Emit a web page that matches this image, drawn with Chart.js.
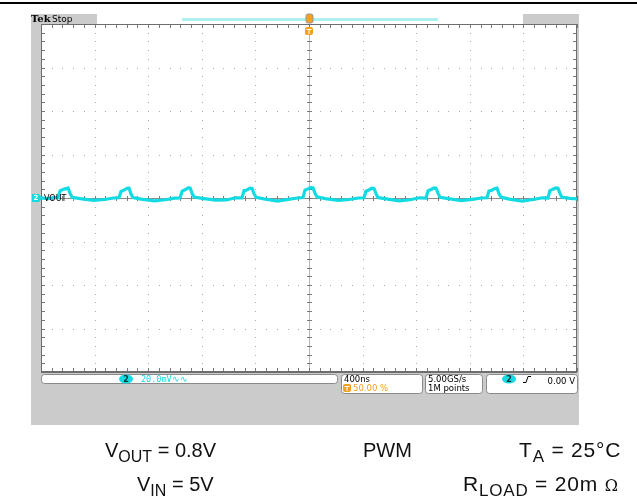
<!DOCTYPE html>
<html>
<head>
<meta charset="utf-8">
<script src="https://cdn.jsdelivr.net/npm/chart.js@4.4.0/dist/chart.umd.min.js"></script>
<style>
html, body { margin: 0; padding: 0; background: #fff; }
#wrap { position: relative; width: 637px; height: 498px; overflow: hidden; }
#scope { position: absolute; left: 0; top: 0; }
.cap { position: absolute; font-family: "Liberation Sans", Arial, sans-serif; font-size: 20px; line-height: 20px; color: #111; white-space: nowrap; }
.cap sub { font-size: 16px; vertical-align: -5px; line-height: 0; }
.cap.wide { font-size: 21px; letter-spacing: 0.8px; }
.cap.wide sub { font-size: 17px; }
.cap .ohm { font-family: "DejaVu Serif", serif; font-size: 16px; }
</style>
</head>
<body>
<div id="wrap">
<canvas id="scope" width="637" height="498"></canvas>
<div class="cap" style="left:105px;top:440px">V<sub>OUT</sub> = 0.8V</div>
<div class="cap" style="left:363px;top:440px">PWM</div>
<div class="cap wide" style="left:519px;top:440px">T<sub>A</sub> = 25°C</div>
<div class="cap" style="left:137px;top:474px">V<sub>IN</sub> = 5V</div>
<div class="cap wide" style="left:463px;top:474px">R<sub>LOAD</sub> = 20m <span class="ohm">Ω</span></div>
</div>
<script>
// horizontal: 400 ns/div, 10 divisions, trigger at centre
var TIME_MIN = -2000, TIME_MAX = 2000, TIME_DIV = 400;
// vertical: 20 mV/div, 8 divisions
var MV_MIN = -80, MV_MAX = 80, MV_DIV = 20;

// CH2 VOUT ripple (ns, mV)
var traceTimeNs = [
    -2000, -1950, -1900,
    -1873, -1858, -1836, -1813, -1798, -1783, -1768, -1708, -1608, -1528, -1458,
    -1418, -1403, -1381, -1358, -1343, -1328, -1313, -1253, -1153, -1073, -1003,
    -962, -947, -925, -902, -887, -872, -857, -797, -697, -617, -547,
    -500, -485, -463, -440, -425, -410, -395, -335, -235, -155, -85,
    -45, -30, -8, 15, 30, 45, 60, 120, 220, 300, 370,
    410, 425, 447, 470, 485, 500, 515, 575, 675, 755, 825,
    873, 888, 910, 933, 948, 963, 978, 1038, 1138, 1218, 1288,
    1328, 1343, 1365, 1388, 1403, 1418, 1433, 1493, 1593, 1673, 1743,
    1783, 1798, 1820, 1843, 1858, 1873, 1888, 1948, 2000
];
var traceMv = [
    0.1, -0.3, 0.2,
    0.2, 3.3, 3.9, 4.3, 4.6, 2.1, 0.3, -0.3, -1.1, -0.7, 0.0,
    0.1, 3.0, 3.6, 4.4, 4.5, 1.8, 0.2, -0.5, -1.3, -0.8, -0.1,
    0.0, 3.2, 3.8, 4.7, 4.6, 2.0, 0.4, -0.2, -1.0, -0.9, 0.1,
    0.1, 3.4, 3.7, 4.5, 4.4, 1.9, 0.3, -0.4, -1.4, -0.6, 0.0,
    0.2, 3.6, 4.2, 4.9, 4.7, 2.2, 0.5, -0.3, -1.1, -0.7, 0.0,
    0.1, 3.1, 3.7, 4.5, 4.4, 2.0, 0.2, -0.4, -1.3, -0.8, 0.1,
    0.0, 3.3, 3.9, 4.6, 4.5, 2.1, 0.3, -0.3, -1.2, -0.6, 0.0,
    0.1, 3.2, 3.6, 4.4, 4.6, 1.9, 0.4, -0.5, -1.4, -0.7, 0.1,
    0.0, 3.4, 4.0, 4.6, 4.5, 2.0, 0.3, -0.2, -0.4
];

var CH_LABEL = "VOUT";
var SCALE_TEXT = "20.0mV";
var TIMEBASE_TEXT = "400ns";
var TRIG_POS_TEXT = "50.00 %";
var RATE_TEXT = "5.00GS/s";
var POINTS_TEXT = "1M points";
var TRIG_LEVEL_TEXT = "0.00 V";

var CYAN = "#12dbe3";
var ORANGE = "#f5a01e";
var PANEL = "#cbcbcb";

function roundBox(ctx, x, y, w, h, r) {
    ctx.beginPath();
    ctx.moveTo(x + r, y);
    ctx.lineTo(x + w - r, y);
    ctx.quadraticCurveTo(x + w, y, x + w, y + r);
    ctx.lineTo(x + w, y + h - r);
    ctx.quadraticCurveTo(x + w, y + h, x + w - r, y + h);
    ctx.lineTo(x + r, y + h);
    ctx.quadraticCurveTo(x, y + h, x, y + h - r);
    ctx.lineTo(x, y + r);
    ctx.quadraticCurveTo(x, y, x + r, y);
    ctx.closePath();
}

function chBadge(ctx, cx, cy) {
    ctx.fillStyle = CYAN;
    ctx.beginPath();
    ctx.ellipse(cx, cy, 7, 4.5, 0, 0, Math.PI * 2);
    ctx.fill();
    ctx.fillStyle = "#033";
    ctx.font = "bold 8px 'DejaVu Sans'";
    ctx.textAlign = "center";
    ctx.textBaseline = "middle";
    ctx.fillText("2", cx, cy + 0.5);
}

function trigMarker(ctx, cx, top) {
    ctx.fillStyle = ORANGE;
    roundBox(ctx, cx - 4, top, 8, 8, 2);
    ctx.fill();
    ctx.fillStyle = "#fff";
    ctx.fillRect(cx - 2.5, top + 2, 5, 1);
    ctx.fillRect(cx - 0.5, top + 2, 1, 5);
}

var scopePlugin = {
    id: "scope",
    beforeDraw: function(chart) {
        var ctx = chart.ctx, a = chart.chartArea;
        var xs = chart.scales.x, ys = chart.scales.y;
        var L = a.left, R = a.right, T = a.top, B = a.bottom;
        ctx.save();
        // page rule
        ctx.fillStyle = "#000";
        ctx.fillRect(0, 2, chart.width, 2);
        // instrument panel
        ctx.fillStyle = PANEL;
        ctx.fillRect(L - 10, T - 10, R - L + 12, B - T + 63);
        // header strip
        ctx.fillStyle = "#fff";
        ctx.fillRect(97, T - 10, 426, 10);
        ctx.fillStyle = "#aef0f2";
        ctx.fillRect(182, T - 6, 256, 3);
        // graticule
        ctx.fillStyle = "#fff";
        ctx.fillRect(L, T, R - L, B - T);
        var t, v, px, py;
        ctx.fillStyle = "#a8a8a8";
        for (t = TIME_MIN + TIME_DIV; t < TIME_MAX; t += TIME_DIV) {
            if (t === 0) continue;
            px = Math.round(xs.getPixelForValue(t));
            for (v = MV_MIN; v <= MV_MAX; v += MV_DIV / 5) {
                ctx.fillRect(px, Math.round(ys.getPixelForValue(v)), 1, 1);
            }
        }
        for (v = MV_MIN + MV_DIV; v < MV_MAX; v += MV_DIV) {
            if (v === 0) continue;
            py = Math.round(ys.getPixelForValue(v));
            for (t = TIME_MIN; t <= TIME_MAX; t += TIME_DIV / 5) {
                ctx.fillRect(Math.round(xs.getPixelForValue(t)), py, 1, 1);
            }
        }
        // centre axes with ticks
        var cx = Math.round(xs.getPixelForValue(0));
        var cy = Math.round(ys.getPixelForValue(0));
        ctx.fillStyle = "#8c8c8c";
        ctx.fillRect(L, cy, R - L, 1);
        ctx.fillStyle = "#b8b8b8";
        ctx.fillRect(cx, T, 1, B - T);
        ctx.fillStyle = "#7a7a7a";
        for (t = TIME_MIN; t <= TIME_MAX; t += TIME_DIV / 5) {
            px = Math.round(xs.getPixelForValue(t));
            ctx.fillRect(px, cy - 2, 1, 5);
            ctx.fillRect(px, T, 1, 4);
            ctx.fillRect(px, B - 4, 1, 4);
        }
        for (v = MV_MIN; v <= MV_MAX; v += MV_DIV / 5) {
            py = Math.round(ys.getPixelForValue(v));
            ctx.fillRect(cx - 2, py, 5, 1);
            ctx.fillRect(L, py, 4, 1);
            ctx.fillRect(R - 4, py, 4, 1);
        }
        // frame
        ctx.fillStyle = "#6e6e6e";
        ctx.fillRect(L, T, R - L, 1);
        ctx.fillRect(L, B - 1, R - L, 2);
        ctx.fillRect(L, T, 1, B - T);
        ctx.fillRect(R - 1, T, 1, B - T);
        ctx.restore();
    },
    afterDatasetsDraw: function(chart) {
        var ctx = chart.ctx, a = chart.chartArea;
        var xs = chart.scales.x, ys = chart.scales.y;
        var L = a.left, R = a.right, T = a.top, B = a.bottom;
        var cx = Math.round(xs.getPixelForValue(0));
        var cy = Math.round(ys.getPixelForValue(0));
        ctx.save();
        // header text
        ctx.fillStyle = "#000";
        ctx.textAlign = "left";
        ctx.textBaseline = "alphabetic";
        ctx.font = "bold 10px 'DejaVu Serif'";
        ctx.fillText("Tek", 31, T - 2);
        ctx.font = "9px 'DejaVu Sans'";
        ctx.fillText("Stop", 52, T - 2);
        // record / trigger markers
        ctx.fillStyle = ORANGE;
        roundBox(ctx, cx - 3, T - 10, 7, 9, 2);
        ctx.fill();
        ctx.strokeStyle = "#999";
        ctx.lineWidth = 1;
        ctx.stroke();
        trigMarker(ctx, cx, T + 3);
        // channel marker
        ctx.fillStyle = CYAN;
        ctx.beginPath();
        ctx.moveTo(L - 9, cy - 4);
        ctx.lineTo(L - 2, cy - 4);
        ctx.lineTo(L + 1, cy);
        ctx.lineTo(L - 2, cy + 4);
        ctx.lineTo(L - 9, cy + 4);
        ctx.closePath();
        ctx.fill();
        ctx.fillStyle = "#fff";
        ctx.font = "bold 7px 'DejaVu Sans'";
        ctx.textAlign = "center";
        ctx.textBaseline = "middle";
        ctx.fillText("2", L - 5, cy + 0.5);
        ctx.fillStyle = "#000";
        ctx.font = "8px 'DejaVu Sans'";
        ctx.textAlign = "left";
        ctx.fillText(CH_LABEL, L + 3, cy + 0.5);
        // status boxes
        ctx.strokeStyle = "#8a8a8a";
        ctx.fillStyle = "#fff";
        ctx.lineWidth = 1;
        var boxes = [[41.5, B + 2.5, 296, 9], [341.5, B + 2.5, 81, 19], [425.5, B + 2.5, 57, 19], [486.5, B + 2.5, 91, 19]];
        boxes.forEach(function(b) {
            roundBox(ctx, b[0], b[1], b[2], b[3], 3);
            ctx.fill();
            ctx.stroke();
        });
        chBadge(ctx, 126, B + 7);
        ctx.fillStyle = CYAN;
        ctx.textAlign = "left";
        ctx.textBaseline = "alphabetic";
        ctx.font = "8.5px 'DejaVu Sans Mono'";
        ctx.fillText(SCALE_TEXT + "\u223f\u223f", 141, B + 10);
        ctx.fillStyle = "#000";
        ctx.font = "8.5px 'DejaVu Sans'";
        ctx.fillText(TIMEBASE_TEXT, 344, B + 10);
        ctx.fillText(RATE_TEXT, 428, B + 10);
        ctx.fillText(POINTS_TEXT, 428, B + 19);
        trigMarker(ctx, 347, B + 12);
        ctx.fillStyle = ORANGE;
        ctx.fillText(TRIG_POS_TEXT, 353, B + 19);
        chBadge(ctx, 509, B + 7);
        ctx.strokeStyle = "#000";
        ctx.beginPath();
        ctx.moveTo(523, B + 10.5);
        ctx.lineTo(526, B + 10.5);
        ctx.lineTo(528, B + 4.5);
        ctx.lineTo(531, B + 4.5);
        ctx.stroke();
        ctx.fillStyle = "#000";
        ctx.textAlign = "right";
        ctx.font = "8.5px 'DejaVu Sans'";
        ctx.fillText(TRIG_LEVEL_TEXT, 575, B + 10);
        ctx.restore();
    }
};

var tracePoints = traceTimeNs.map(function(t, i) {
    return { x: t, y: traceMv[i] };
});

new Chart(document.getElementById("scope"), {
    type: "line",
    data: {
        datasets: [{
            label: CH_LABEL,
            data: tracePoints,
            borderColor: CYAN,
            borderWidth: 3.2,
            pointRadius: 0,
            tension: 0,
            fill: false
        }]
    },
    options: {
        responsive: false,
        animation: false,
        devicePixelRatio: 1,
        layout: { padding: { left: 41, right: 60, top: 24, bottom: 126 } },
        plugins: { legend: { display: false }, tooltip: { enabled: false } },
        scales: {
            x: { type: "linear", min: TIME_MIN, max: TIME_MAX, display: false },
            y: { type: "linear", min: MV_MIN, max: MV_MAX, display: false }
        }
    },
    plugins: [scopePlugin]
});
</script>
</body>
</html>
